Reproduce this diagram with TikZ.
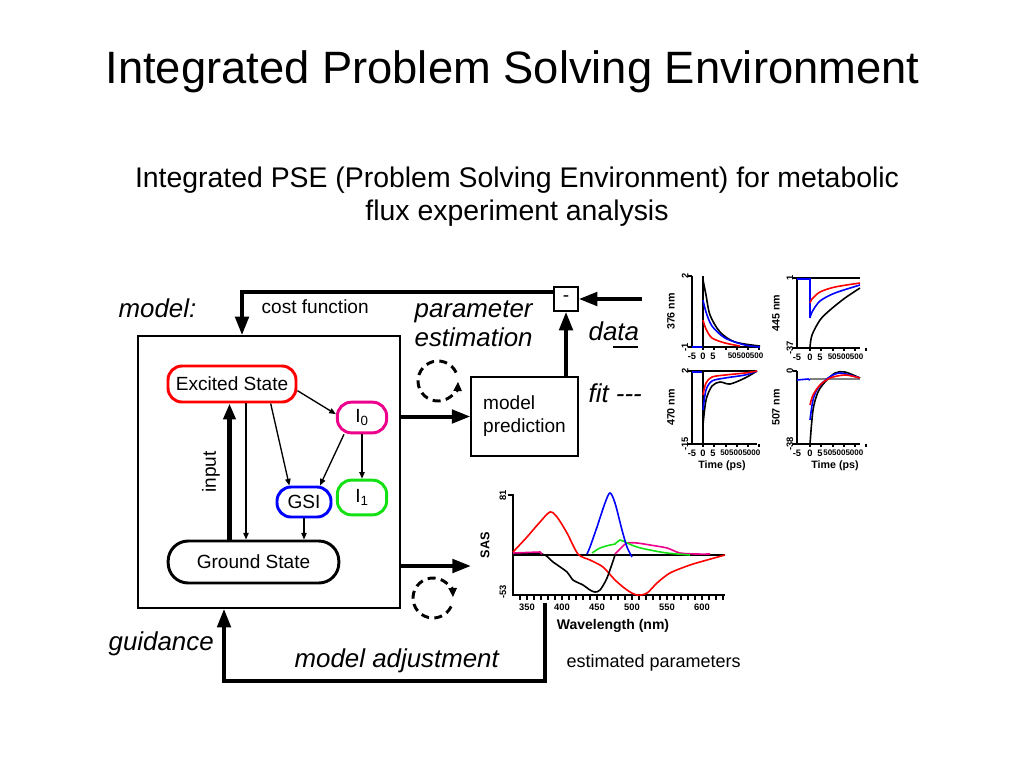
\documentclass[tikz,border=0pt]{standalone}
\usepackage{fontspec}
\setmainfont{Liberation Sans}
\usepackage[dvipsnames]{xcolor}
\usepackage{tikz}
\usetikzlibrary{arrows.meta,positioning}
\definecolor{brightgreen}{RGB}{20,225,20}

\begin{document}
\begin{tikzpicture}[x=0.75pt, y=-0.75pt, line width=1pt,
    big/.style={inner sep=0pt, font=\fontsize{19.4}{21.75}\selectfont\itshape},
    small/.style={inner sep=0pt, font=\fontsize{14.3}{17.25}\selectfont},
    state/.style={draw, line width=2.2pt, rounded corners=10.5pt, inner sep=0pt, small},
    flow/.style={line width=3pt, -{Triangle[length=14pt,width=10pt]}},
    link/.style={line width=1pt, -{Triangle[length=5pt,width=4pt]}},
    loopline/.style={line width=2.2pt, dash pattern=on 6pt off 4pt, -{Triangle[length=7pt,width=6pt]}},
    tick/.style={inner sep=0pt, font=\fontsize{7}{8}\selectfont\bfseries},
    curve/.style={line width=1.2pt}]
            \useasboundingbox (0,0) rectangle (1024,768);

            % draw titles
            \node[anchor=base, font=\fontsize{34}{40}\selectfont] (title) at (512.5,83) {Integrated Problem Solving Environment};
            \node[anchor=base, align=center, font=\fontsize{21.3}{24.75}\selectfont] (subtitle) at (517,220) {Integrated PSE (Problem Solving Environment) for metabolic\\flux experiment analysis};

            % draw model box and states
            \node[draw, line width=1.1pt, minimum width=196.5pt, minimum height=204pt] (modelbox) at (269,472) {};
            \node[state, draw=red, minimum width=96pt, minimum height=27pt] (excited) at (232,384) {Excited State};
            \node[state, draw=black, rounded corners=15pt, minimum width=128pt, minimum height=31.5pt] (ground) at (253.5,562) {Ground State};
            \node[state, draw=magenta, minimum width=37pt, minimum height=23pt] (Izero) at (362,417.5) {I\textsubscript{0}};
            \node[state, draw=brightgreen, minimum width=37pt, minimum height=26pt] (Ione) at (362,497.5) {I\textsubscript{1}};
            \node[state, draw=blue, minimum width=40.5pt, minimum height=22.5pt] (gsi) at (304,502) {GSI};

            % draw transitions
            \draw[flow, line width=3.5pt, -{Triangle[length=12pt,width=9pt]}] ([xshift=-18pt]ground.north) -- ([xshift=-18pt]ground.north |- excited.south);
            \draw[link] ([xshift=10.5pt]excited.south) -- ([xshift=10.5pt]excited.south |- ground.north);
            \draw[link] ([xshift=29pt]excited.south) -- ([xshift=-11pt]gsi.north);
            \draw[link] ([yshift=-5pt]excited.east) -- ([yshift=2.5pt]Izero.west);
            \draw[link] ([xshift=-13.5pt]Izero.south) -- ([xshift=12pt]gsi.north);
            \draw[link] (Izero) -- (Ione);
            \draw[link] (gsi) -- (gsi |- ground.north);
            \node[small, rotate=90] (input) at (211,472) {input};

            % draw prediction and difference boxes
            \node[draw, line width=1.1pt, small, align=left, minimum width=80pt, minimum height=59pt] (pred) at (524.5,416.5) {model\\prediction};
            \node[draw, line width=1.1pt, small, minimum size=18pt] (minus) at (566,299) {-};

            % draw thick loop arrows
            \coordinate (sasin) at (471,566);
            \coordinate (datain) at (642,299);
            \coordinate (costturn) at (242,292);
            \coordinate (adjstart) at (545,603);
            \coordinate (guideturn) at (224,681);
            \draw[flow] (modelbox.east |- pred.west) -- (pred.west);
            \draw[flow] (modelbox.east |- sasin) -- (sasin);
            \draw[flow] (minus.south |- pred.north) -- (minus.south);
            \draw[flow] (datain) -- (minus.east);
            \draw[flow] (minus.west |- costturn) -- (costturn) -- (costturn |- modelbox.north);
            \draw[flow] (adjstart) -- (adjstart |- guideturn) -- (guideturn) -- (guideturn |- modelbox.south);

            % draw dashed iteration circles
            \coordinate (estloop) at (438,381);
            \coordinate (adjloop) at (433,598);
            \draw[loopline] (estloop) ++(-25:20) arc[start angle=-25, end angle=-358, radius=20];
            \draw[loopline] (adjloop) ++(25:20) arc[start angle=25, end angle=358, radius=20];

            % draw labels
            \node[big, anchor=base west] (modellabel) at (118,317) {model:};
            \node[small, anchor=base west] (costlabel) at (261,313) {cost function};
            \node[big, anchor=base west, align=left] (estlabel) at (414,346) {parameter\\estimation};
            \node[big, anchor=base west] (datalabel) at (588,340) {data};
            \draw[line width=2.2pt] (613,347) -- (638,347);
            \node[big, anchor=base west] (fitlabel) at (588,402) {fit -{}-{}-};
            \node[big, anchor=base west] (guidelabel) at (108,650) {guidance};
            \node[big, anchor=base west] (adjlabel) at (294,667) {model adjustment};
            \node[anchor=base west, inner sep=0pt, font=\fontsize{13.5}{16}\selectfont] (estparams) at (566,667) {estimated parameters};

            % draw SAS axes
            \draw[line width=1.2pt] (508,495) -- (513,495) -- (513,595) -- (725,595);
            \draw[line width=1.2pt] (513,555) -- (725,555);
            \foreach \w in {340,350,...,630}
                \draw[line width=1.2pt] ({513+(\w-330)*0.7},595) -- ++(0,5);
            \foreach \w in {350,400,...,600}
                \node[tick, anchor=north] at ({513+(\w-330)*0.7},603) {\w};
            \node[tick, rotate=90] at (503,495) {81};
            \node[tick, rotate=90] at (503,592) {-53};
            \node[tick, rotate=90, font=\fontsize{9.5}{11}\selectfont\bfseries] at (485,545) {SAS};
            \node[tick, font=\fontsize{10.5}{12}\selectfont\bfseries] at (613,626) {Wavelength (nm)};

            % draw SAS spectra
            \draw[curve, red] plot[smooth] coordinates {(513,552) (527,537) (540,522) (550,512) (557,517) (567,533) (578,554) (590,560) (603,567) (615,580) (627,590) (637,595) (647,593) (657,583) (670,573) (690,565) (707,560) (725,555)};
            \draw[curve, black] plot[smooth] coordinates {(513,554) (542,554) (553,562) (567,572) (573,580) (583,585) (590,590) (595,592) (600,590) (607,578) (615,555)};
            \draw[curve, magenta] (513,553) -- (540,552) -- (542,554);
            \draw[curve, magenta] plot[smooth] coordinates {(615,554) (622,547) (627,543) (637,543) (650,545) (667,548) (680,553) (697,554) (710,554)};
            \draw[curve, brightgreen] plot[smooth] coordinates {(592,553) (600,548) (610,545) (615,544) (620,540) (627,543) (637,547) (650,550) (667,553) (690,555)};
            \draw[curve, blue] plot[smooth] coordinates {(587,554) (590,547) (597,527) (605,503) (610,493) (615,503) (622,530) (627,547) (632,557)};

            % draw kinetic trace axes
            \foreach \px/\ptop/\pbot/\pright/\pzero/\pname/\pmax/\pmin/\plog in {692/276/347/760/703/376 nm/2/-1/50500500, 797/278/348/860/810/445 nm/1/-37/50500500, 692/371/444/757/703/470 nm/2/-15/505005000, 797/371/444/860/810/507 nm/0/-38/505005000} {
                \draw[line width=1.2pt] (\px,\ptop) -- (\px,\pbot) -- (\pright,\pbot);
                \draw[line width=0.8pt] (\px-4,\ptop) -- (\px,\ptop);
                \draw[line width=0.8pt] (\px-4,\pbot) -- (\px,\pbot);
                \foreach \tx in {0,11,23,34,45,56}
                    \draw[line width=0.8pt] (\pzero+\tx,\pbot) -- ++(0,3);
                \node[tick, rotate=90] at (\px-7,\ptop) {\pmax};
                \node[tick, rotate=90] at (\px-7,\pbot) {\pmin};
                \node[tick, rotate=90, font=\fontsize{8}{9}\selectfont\bfseries] at (\px-21,{(\ptop+\pbot)/2}) {\pname};
                \node[tick, anchor=north] at (\px,\pbot+5) {-5};
                \node[tick, anchor=north] at (\pzero,\pbot+5) {0};
                \node[tick, anchor=north] at (\pzero+10,\pbot+5) {5};
                \node[tick, anchor=north east, font=\fontsize{6}{7}\selectfont\bfseries] at (\pright+4,\pbot+5) {\plog};
            }
            \node[tick, font=\fontsize{8}{9}\selectfont\bfseries] at (722,466) {Time (ps)};
            \node[tick, font=\fontsize{8}{9}\selectfont\bfseries] at (835,466) {Time (ps)};

            % draw 376 nm traces
            \draw[curve, blue] (692,347) -- (703,347);
            \draw[curve, black] (703,347) -- (703,276);
            \draw[curve, black] plot[smooth] coordinates {(703,280) (706,295) (710,315) (720,332) (735,342) (760,346)};
            \draw[curve, blue] plot[smooth] coordinates {(703,300) (706,312) (712,326) (725,338) (745,345) (760,347)};
            \draw[curve, red] plot[smooth] coordinates {(703,320) (706,329) (712,338) (725,343) (740,346)};

            % draw 445 nm traces
            \draw[curve, black] (797,278) -- (860,278);
            \draw[curve, blue] (797,279) -- (810,279) -- (810,318);
            \draw[curve, black] plot[smooth] coordinates {(810,347) (812,335) (820,320) (830,310) (845,298) (860,288)};
            \draw[curve, blue] plot[smooth] coordinates {(810,318) (812,312) (820,301) (835,293) (860,285)};
            \draw[curve, red] plot[smooth] coordinates {(810,303) (812,299) (820,292) (835,287) (860,283)};

            % draw 470 nm traces
            \draw[curve, black] (692,371) -- (757,371);
            \draw[curve, blue] (692,372) -- (703,372);
            \draw[curve, black] (703,371) -- (703,444);
            \draw[curve, black] plot[smooth] coordinates {(703,425) (706,400) (712,386) (720,382) (730,384) (745,378) (757,371)};
            \draw[curve, blue] plot[smooth] coordinates {(703,410) (706,390) (712,381) (725,378) (745,375) (757,371)};
            \draw[curve, red] plot[smooth] coordinates {(703,395) (706,383) (712,377) (725,375) (745,373) (757,371)};

            % draw 507 nm traces
            \draw[curve, gray] (810,379) -- (860,379);
            \draw[curve, blue] (797,380) -- (808,379) -- (810,380);
            \draw[curve, black] plot[smooth] coordinates {(810,444) (813,410) (818,392) (825,382) (835,373) (845,372) (860,378)};
            \draw[curve, blue] plot[smooth] coordinates {(810,420) (813,400) (818,388) (828,378) (840,373) (860,378)};
            \draw[curve, red] plot[smooth] coordinates {(810,405) (813,395) (820,385) (830,378) (845,375) (860,378)};
        \end{tikzpicture}
\end{document}
